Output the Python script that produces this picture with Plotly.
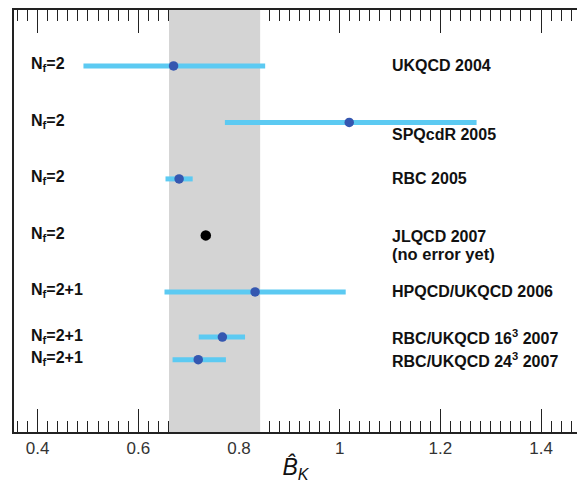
import plotly.graph_objects as go

# ---- data ----
collabs = ["UKQCD 2004", "SPQcdR 2005", "RBC 2005", "JLQCD 2007",
           "HPQCD/UKQCD 2006", "RBC/UKQCD 16<sup>3</sup> 2007", "RBC/UKQCD 24<sup>3</sup> 2007"]
nf_labels = ["N<sub>f</sub>=2", "N<sub>f</sub>=2", "N<sub>f</sub>=2", "N<sub>f</sub>=2",
             "N<sub>f</sub>=2+1", "N<sub>f</sub>=2+1", "N<sub>f</sub>=2+1"]
row_pos = [7, 6, 5, 4, 3, 2.2, 1.8]
bk_center = [0.670, 1.019, 0.681, 0.734, 0.832, 0.767, 0.719]
bk_low = [0.491, 0.772, 0.654, None, 0.652, 0.720, 0.668]
bk_high = [0.852, 1.272, 0.708, None, 1.012, 0.812, 0.774]
band = [0.661, 0.842]
x_range = [0.353, 1.4715]
y_range = [0.52, 7.99]

fig = go.Figure()

# grey band (a trace so that it covers the axis ticks)
fig.add_trace(go.Scatter(
    x=[band[0], band[1], band[1], band[0], band[0]],
    y=[y_range[0], y_range[0], y_range[1], y_range[1], y_range[0]],
    fill="toself", fillcolor="#d4d4d4", line=dict(width=0),
    mode="lines", hoverinfo="skip", showlegend=False))

# results with errors
ix = [i for i in range(len(bk_center)) if bk_low[i] is not None]
fig.add_trace(go.Scatter(
    x=[bk_center[i] for i in ix], y=[row_pos[i] for i in ix],
    mode="markers",
    marker=dict(size=9.5, color="#3557b0"),
    error_x=dict(type="data", symmetric=False,
                 array=[bk_high[i] - bk_center[i] for i in ix],
                 arrayminus=[bk_center[i] - bk_low[i] for i in ix],
                 thickness=5, width=0, color="#5ccaf2"),
    showlegend=False))

# result without error
jx = [i for i in range(len(bk_center)) if bk_low[i] is None]
fig.add_trace(go.Scatter(
    x=[bk_center[i] for i in jx], y=[row_pos[i] for i in jx],
    mode="markers", marker=dict(size=10.5, color="black"),
    showlegend=False))

font_lab = dict(family="Liberation Sans, Arial, sans-serif", size=16, color="#111")

for i in range(len(collabs)):
    fig.add_annotation(xref="paper", yref="y", x=0.027, y=row_pos[i],
                       text="<b>" + nf_labels[i] + "</b>", showarrow=False,
                       xanchor="left", yanchor="middle", font=font_lab, yshift=1)
    ys = 0
    if i == 1:
        ys = -12
    if i == 3:
        ys = -1
    txt = "<b>" + collabs[i] + "</b>"
    fig.add_annotation(xref="paper", yref="y", x=0.668, y=row_pos[i],
                       text=txt, showarrow=False, xanchor="left",
                       yanchor="middle", font=font_lab, yshift=ys)
fig.add_annotation(xref="paper", yref="y", x=0.668, y=row_pos[3],
                   text="<b>(no error yet)</b>", showarrow=False, xanchor="left",
                   yanchor="middle", font=dict(family="Liberation Sans, Arial, sans-serif",
                                               size=16.5, color="#111"), yshift=-19)

fig.update_layout(
    width=577, height=493,
    margin=dict(l=14, r=0, t=10, b=61),
    plot_bgcolor="white", paper_bgcolor="white",
    xaxis=dict(range=x_range, tickmode="linear", tick0=0.4, dtick=0.2,
               ticks="inside", ticklen=23, tickwidth=1, tickcolor="#222",
               showline=True, linecolor="#222", linewidth=1.5, mirror="allticks",
               showgrid=False, zeroline=False, layer="below traces",
               tickfont=dict(family="Liberation Sans, Arial, sans-serif", size=17, color="#333"),
               minor=dict(dtick=0.02, tick0=0.4, ticks="inside", ticklen=11,
                          tickwidth=1, tickcolor="#222", showgrid=False),
               title=dict(text="<i>B\u0302</i><sub><i>K</i></sub>",
                          font=dict(family="Liberation Sans, Arial, sans-serif", size=23, color="#111"),
                          standoff=2)),
    yaxis=dict(range=y_range, showticklabels=False, ticks="", showgrid=False,
               zeroline=False, showline=True, linecolor="#222", linewidth=1.5,
               layer="below traces"),
)

fig.write_html("out.html")
